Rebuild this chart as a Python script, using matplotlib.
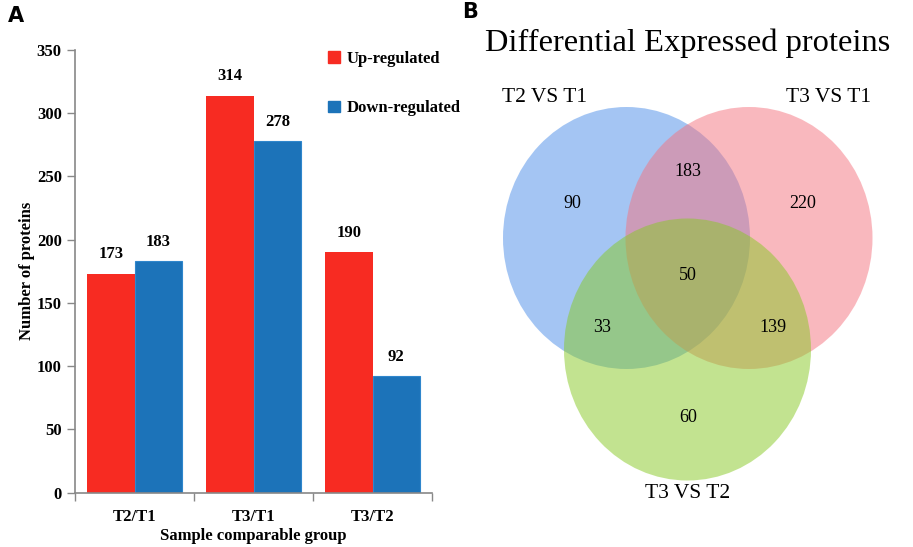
import matplotlib
matplotlib.use("Agg")
import matplotlib.pyplot as plt
from matplotlib.patches import Ellipse, Patch
import numpy as np

# panel A data
groups = ["T2/T1", "T3/T1", "T3/T2"]
up_vals = [173, 314, 190]
down_vals = [183, 278, 92]

# panel B data
set_names = ["T2 VS T1", "T3 VS T1", "T3 VS T2"]
region_counts = {"only_a": 90, "ab": 183, "only_b": 220, "abc": 50,
                 "ac": 33, "bc": 139, "only_c": 60}

red = "#F72B22"
blue = "#1C73B9"
serif = ["Liberation Serif", "DejaVu Serif"]

W, H = 913, 547
fig = plt.figure(figsize=(W / 100, H / 100), dpi=100)

# ---------------- panel A ----------------
ax = fig.add_axes([75 / W, (H - 492.7) / H, (432 - 75) / W, (492.7 - 50) / H])
x = np.arange(len(groups)) + 0.5
bw = 0.4
b1 = ax.bar(x - bw / 2, up_vals, bw, color=red, label="Up-regulated")
b2 = ax.bar(x + bw / 2, down_vals, bw, color=blue, edgecolor="#2F86CC",
            linewidth=0.8, label="Down-regulated")
for bars, vals in ((b1, up_vals), (b2, down_vals)):
    for b, v in zip(bars, vals):
        ax.text(b.get_x() + b.get_width() / 2, v + 9, str(v), ha="center",
                va="bottom", fontsize=12, fontweight="bold", family=serif)

ax.set_xlim(0, 3)
ax.set_ylim(0, 350)
ax.set_yticks(np.arange(0, 351, 50))
ax.set_xticks([0, 1, 2, 3])
ax.set_xticklabels([])
ax.set_xticks(x, minor=True)
ax.set_xticklabels(groups, minor=True)
ax.tick_params(axis="x", which="minor", length=0, pad=12)
ax.tick_params(axis="both", which="major", length=6, color="#888888", width=1)
for lab in ax.get_yticklabels() + ax.get_xticklabels(minor=True):
    lab.set_fontfamily(serif)
    lab.set_fontweight("bold")
    lab.set_fontsize(12)
for s in ("top", "right"):
    ax.spines[s].set_visible(False)
for s in ("left", "bottom"):
    ax.spines[s].set_color("#888888")
    ax.spines[s].set_linewidth(1.2)
ax.set_ylabel("Number of proteins", fontsize=12, fontweight="bold", family=serif, labelpad=1)
ax.set_xlabel("Sample comparable group", fontsize=12, fontweight="bold", family=serif, labelpad=2)

ax.legend(handles=[Patch(color=red, label="Up-regulated"), Patch(color=blue, label="Down-regulated")],
          loc="upper left", bbox_to_anchor=(313 / W, 1 - 36 / H), bbox_transform=fig.transFigure,
          frameon=False, handlelength=0.7, handleheight=0.7, handletextpad=0.4,
          labelspacing=2.0, prop={"family": serif, "weight": "bold", "size": 12})

fig.text(8 / W, 1 - 16 / H, "A", fontsize=15, fontweight="bold", family="DejaVu Sans",
         ha="left", va="center")

# ---------------- panel B ----------------
vx = fig.add_axes([460 / W, 0, 453 / W, 1])
vx.set_xlim(460, 913)
vx.set_ylim(547, 0)
vx.axis("off")

ew, eh = 247, 262
centers = [(626.5, 238), (749, 238), (687.5, 349.5)]
fills = ["#4B8DE8", "#F5737F", "#87C923"]
for (cx, cy), c in zip(centers, fills):
    vx.add_patch(Ellipse((cx, cy), ew, eh, facecolor=c, alpha=0.5, edgecolor="none"))

label_pos = {"only_a": (572, 204), "ab": (688, 172), "only_b": (803, 204), "abc": (688, 275),
             "ac": (602, 327), "bc": (773, 327), "only_c": (688, 417)}
for k, v in region_counts.items():
    px, py = label_pos[k]
    vx.text(px, py, str(v), ha="center", va="center", fontsize=13, family=serif)

name_pos = [(545, 98), (828, 98), (688, 493)]
for n, (px, py) in zip(set_names, name_pos):
    vx.text(px, py, n, ha="center", va="center", fontsize=15.5, family=serif)

vx.text(688, 43, "Differential Expressed proteins", ha="center", va="center",
        fontsize=23.4, family=serif)
fig.text(462 / W, 1 - 12 / H, "B", fontsize=15, fontweight="bold", family="DejaVu Sans",
         ha="left", va="center")

fig.savefig("out.png", dpi=100)
